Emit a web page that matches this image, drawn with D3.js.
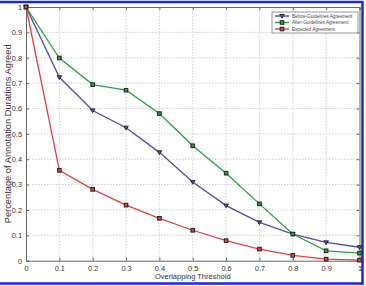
<!DOCTYPE html>
<html>
<head>
<meta charset="utf-8">
<script src="https://cdn.jsdelivr.net/npm/d3@7"></script>
<style>
  body { margin: 0; background: #fff; }
  svg { display: block; font-family: "Liberation Sans", Arial, sans-serif; }
</style>
</head>
<body>
<svg width="366" height="286"></svg>
<script>
const thresholds = [0, 0.1, 0.2, 0.3, 0.4, 0.5, 0.6, 0.7, 0.8, 0.9, 1];
const before = [1, 0.723, 0.592, 0.524, 0.427, 0.31, 0.217, 0.151, 0.105, 0.072, 0.053];
const after = [1, 0.799, 0.694, 0.672, 0.58, 0.453, 0.345, 0.224, 0.105, 0.039, 0.030];
const expected = [1, 0.356, 0.281, 0.219, 0.167, 0.12, 0.079, 0.046, 0.021, 0.006, 0.002];
const seriesNames = ["Before-Guidelines Agreement", "After-Guidelines Agreement", "Expected Agreement"];
const xTicks = [0, 0.1, 0.2, 0.3, 0.4, 0.5, 0.6, 0.7, 0.8, 0.9, 1];
const yTicks = [0, 0.1, 0.2, 0.3, 0.4, 0.5, 0.6, 0.7, 0.8, 0.9, 1];

const series = [
    { name: seriesNames[0], values: before, color: "#4f4fa8", marker: "tri" },
    { name: seriesNames[1], values: after, color: "#27a244", marker: "sq" },
    { name: seriesNames[2], values: expected, color: "#e2433f", marker: "sq" }
];

const svg = d3.select("svg");
const mLeft = 26, mRight = 359.5, mTop = 7, mBottom = 260.7;

const x = d3.scaleLinear().domain([0, 1]).range([mLeft, mRight]);
const y = d3.scaleLinear().domain([0, 1]).range([mBottom, mTop]);

// outer frame
svg.append("line").attr("x1", 0).attr("x2", 363).attr("y1", 2).attr("y2", 2)
    .attr("stroke", "#1c28d0").attr("stroke-width", 2.5);
svg.append("line").attr("x1", 0).attr("x2", 363).attr("y1", 283.5).attr("y2", 283.5)
    .attr("stroke", "#1c28d0").attr("stroke-width", 2.5);
svg.append("line").attr("x1", 362.5).attr("x2", 362.5).attr("y1", 1).attr("y2", 285)
    .attr("stroke", "#1c28d0").attr("stroke-width", 2.5);

// grid
const grid = svg.append("g").attr("stroke", "#c4c4c4").attr("stroke-width", 0.8)
    .attr("stroke-dasharray", "1.5,1.5");
grid.selectAll(".gx").data(xTicks.slice(1, -1)).enter().append("line")
    .attr("x1", d => x(d)).attr("x2", d => x(d)).attr("y1", mTop).attr("y2", mBottom);
grid.selectAll(".gy").data(yTicks.slice(1, -1)).enter().append("line")
    .attr("x1", mLeft).attr("x2", mRight).attr("y1", d => y(d)).attr("y2", d => y(d));

// axes
svg.append("g").attr("transform", `translate(0,${mBottom})`)
    .call(d3.axisBottom(x).tickValues(xTicks).tickFormat(d3.format("~g")).tickSize(-3).tickPadding(5));
svg.append("g").attr("transform", `translate(${mLeft},0)`)
    .call(d3.axisLeft(y).tickValues(yTicks).tickFormat(d3.format("~g")).tickSize(-3).tickPadding(4));
svg.append("g").attr("transform", `translate(0,${mTop})`)
    .call(d3.axisTop(x).tickValues(xTicks).tickFormat("").tickSize(-3));
svg.append("g").attr("transform", `translate(${mRight},0)`)
    .call(d3.axisRight(y).tickValues(yTicks).tickFormat("").tickSize(-3));
svg.selectAll(".domain").attr("stroke", "#666");
svg.selectAll(".tick line").attr("stroke", "#666");
svg.selectAll(".tick text").attr("fill", "#333").attr("font-size", 7.4);

// lines
const line = d3.line().x((d, i) => x(thresholds[i])).y(d => y(d));
series.forEach(s => {
    svg.append("path").datum(s.values).attr("d", line)
        .attr("fill", "none").attr("stroke", s.color).attr("stroke-width", 1.3);
});

function drawMarker(g, cx, cy, type, color) {
    if (type === "tri") {
        g.append("path").attr("d", `M${cx - 2.3},${cy - 1.6}L${cx + 2.3},${cy - 1.6}L${cx},${cy + 2.2}Z`)
            .attr("fill", color).attr("stroke", "#222").attr("stroke-width", 0.9);
    } else {
        g.append("rect").attr("x", cx - 1.8).attr("y", cy - 1.8).attr("width", 3.6).attr("height", 3.6)
            .attr("fill", color).attr("stroke", "#222").attr("stroke-width", 1);
    }
}
series.forEach(s => {
    const g = svg.append("g");
    s.values.forEach((v, i) => drawMarker(g, x(thresholds[i]), y(v), s.marker, s.color));
});

// legend
const lg = svg.append("g").attr("transform", "translate(272,12)");
lg.append("rect").attr("width", 86).attr("height", 21).attr("fill", "#fff")
    .attr("stroke", "#555").attr("stroke-width", 0.6);
series.forEach((s, i) => {
    const ly = 4 + i * 6.5;
    lg.append("line").attr("x1", 3).attr("x2", 17).attr("y1", ly).attr("y2", ly)
        .attr("stroke", s.color).attr("stroke-width", 1.4);
    drawMarker(lg, 10, ly, s.marker, s.color);
    lg.append("text").attr("x", 20).attr("y", ly + 1.6).attr("font-size", 4.6)
        .attr("fill", "#444").text(s.name);
});

// axis labels
svg.append("text").attr("x", (mLeft + mRight) / 2).attr("y", 279).attr("text-anchor", "middle")
    .attr("font-size", 7.5).attr("fill", "#333").text("Overlapping Threshold");
svg.append("text").attr("transform", `translate(10.5,${(mTop + mBottom) / 2}) rotate(-90)`)
    .attr("text-anchor", "middle").attr("font-size", 9.3).attr("fill", "#333")
    .text("Percentage of Annotation Durations Agreed");
</script>
</body>
</html>
